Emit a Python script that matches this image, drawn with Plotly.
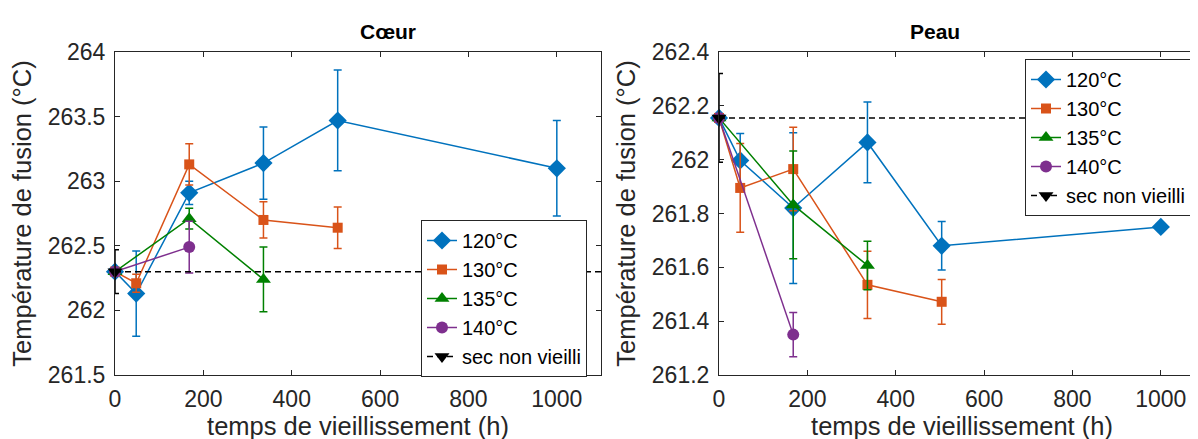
import plotly.graph_objects as go

# ---------------- data ----------------
temps_labels = ["120°C", "130°C", "135°C", "140°C"]
colors = ["#0072BD", "#D95319", "#008000", "#7E2F8E"]
symbols = ["diamond", "square", "triangle-up", "circle"]
msizes = [14, 10, 13, 12]

# Coeur
c_x = [
    [0, 48, 168, 336, 504, 1000],
    [0, 48, 168, 336, 504],
    [0, 168, 336],
    [0, 168],
]
c_y = [
    [262.30, 262.13, 262.91, 263.14, 263.47, 263.10],
    [262.30, 262.21, 263.13, 262.70, 262.64],
    [262.30, 262.71, 262.24],
    [262.30, 262.49],
]
c_e = [
    [0.0, 0.33, 0.09, 0.28, 0.39, 0.37],
    [0.0, 0.07, 0.16, 0.14, 0.16],
    [0.0, 0.08, 0.25],
    [0.0, 0.20],
]
c_ref = 262.30
c_ref_err = 0.17

# Peau
p_x = [
    [0, 48, 168, 336, 504, 1000],
    [0, 48, 168, 336, 504],
    [0, 168, 336],
    [0, 168],
]
p_y = [
    [262.155, 261.997, 261.82, 262.064, 261.68, 261.75],
    [262.155, 261.895, 261.965, 261.535, 261.472],
    [262.155, 261.832, 261.607],
    [262.155, 261.35],
]
p_e = [
    [0.0, 0.10, 0.28, 0.15, 0.09, 0.012],
    [0.0, 0.165, 0.155, 0.125, 0.083],
    [0.0, 0.20, 0.09],
    [0.0, 0.082],
]
p_ref = 262.155
p_ref_err = 0.165

x_end = 1100
xticks = [0, 200, 400, 600, 800, 1000]
c_yticks = [261.5, 262, 262.5, 263, 263.5, 264]
p_yticks = [261.2, 261.4, 261.6, 261.8, 262, 262.2, 262.4]

# ---------------- figure ----------------
W, H = 1198, 439
fig = go.Figure()
FONT = "Liberation Sans, Arial, sans-serif"
AX = "#262626"


def add_panel(xs, ys, es, ref, ref_err, xa, ya, legend):
    for i in range(len(temps_labels)):
        fig.add_trace(go.Scatter(
            x=xs[i], y=ys[i], mode="lines+markers", name=temps_labels[i],
            xaxis=xa, yaxis=ya, legend=legend, cliponaxis=False,
            line=dict(color=colors[i], width=1.5),
            marker=dict(symbol=symbols[i], size=msizes[i], color=colors[i]),
            error_y=dict(type="data", array=es[i], visible=True,
                         color=colors[i], thickness=1.5, width=4),
        ))
    # dashed reference line across the whole axis
    fig.add_trace(go.Scatter(
        x=[0, x_end], y=[ref, ref], mode="lines", showlegend=False,
        xaxis=xa, yaxis=ya, cliponaxis=False, hoverinfo="skip",
        line=dict(color="black", width=1.5, dash="6px,4px"),
    ))
    # reference point with error bar (legend shows dashed line + marker)
    fig.add_trace(go.Scatter(
        x=[0], y=[ref], mode="lines+markers", name="sec non vieilli",
        xaxis=xa, yaxis=ya, legend=legend, cliponaxis=False,
        line=dict(color="black", width=1.5, dash="6px,4px"),
        marker=dict(symbol="triangle-down", size=13, color="black"),
        error_y=dict(type="data", array=[ref_err], visible=True,
                     color="black", thickness=1.5, width=4),
    ))


add_panel(c_x, c_y, c_e, c_ref, c_ref_err, "x", "y", "legend")
add_panel(p_x, p_y, p_e, p_ref, p_ref_err, "x2", "y2", "legend2")

x1 = [107 / W, 593 / W]
x2 = [711 / W, 1197 / W]
yd = [1 - 367 / H, 1 - 44 / H]

axcommon = dict(showline=True, linecolor=AX, linewidth=1, mirror="ticks",
                ticks="inside", ticklen=5, tickcolor=AX, showgrid=False,
                zeroline=False, automargin=False,
                tickfont=dict(size=23, color=AX, family=FONT))
title_font = dict(size=25.5, color=AX, family=FONT)

fig.update_layout(
    width=W, height=H, margin=dict(l=0, r=0, t=0, b=0),
    paper_bgcolor="white", plot_bgcolor="white",
    font=dict(family=FONT, color=AX),
    xaxis=dict(domain=x1, anchor="y", range=[0, x_end], tickvals=xticks,
               title=dict(text="temps de vieillissement (h)", font=title_font, standoff=3),
               ticklabelstandoff=3, **axcommon),
    yaxis=dict(domain=yd, anchor="x", range=[261.5, 264], tickvals=c_yticks,
               ticktext=[f"{v:g}" for v in c_yticks],
               title=dict(text="Température de fusion (°C)", font=title_font, standoff=8),
               ticklabelstandoff=4, **axcommon),
    xaxis2=dict(domain=x2, anchor="y2", range=[0, x_end], tickvals=xticks,
                title=dict(text="temps de vieillissement (h)", font=title_font, standoff=3),
                ticklabelstandoff=3, **axcommon),
    yaxis2=dict(domain=yd, anchor="x2", range=[261.2, 262.4], tickvals=p_yticks,
                ticktext=[f"{v:g}" for v in p_yticks],
                title=dict(text="Température de fusion (°C)", font=title_font, standoff=8),
                ticklabelstandoff=4, **axcommon),
    legend=dict(x=413 / W, y=1 - 212 / H, xanchor="left", yanchor="top",
                bgcolor="white", bordercolor=AX, borderwidth=1,
                font=dict(size=20, color="black", family=FONT), tracegroupgap=0,
                itemwidth=30),
    legend2=dict(x=1017 / W, y=1 - 51 / H, xanchor="left", yanchor="top",
                 bgcolor="white", bordercolor=AX, borderwidth=1,
                 font=dict(size=20, color="black", family=FONT), tracegroupgap=0,
                 itemwidth=30),
    annotations=[
        dict(text="<b>Cœur</b>", x=sum(x1) / 2, y=1 - 23 / H, xref="paper", yref="paper",
             showarrow=False, font=dict(size=21, color="black", family=FONT), yanchor="middle"),
        dict(text="<b>Peau</b>", x=sum(x2) / 2, y=1 - 23 / H, xref="paper", yref="paper",
             showarrow=False, font=dict(size=21, color="black", family=FONT), yanchor="middle"),
    ],
)

fig.write_html("out.html")
